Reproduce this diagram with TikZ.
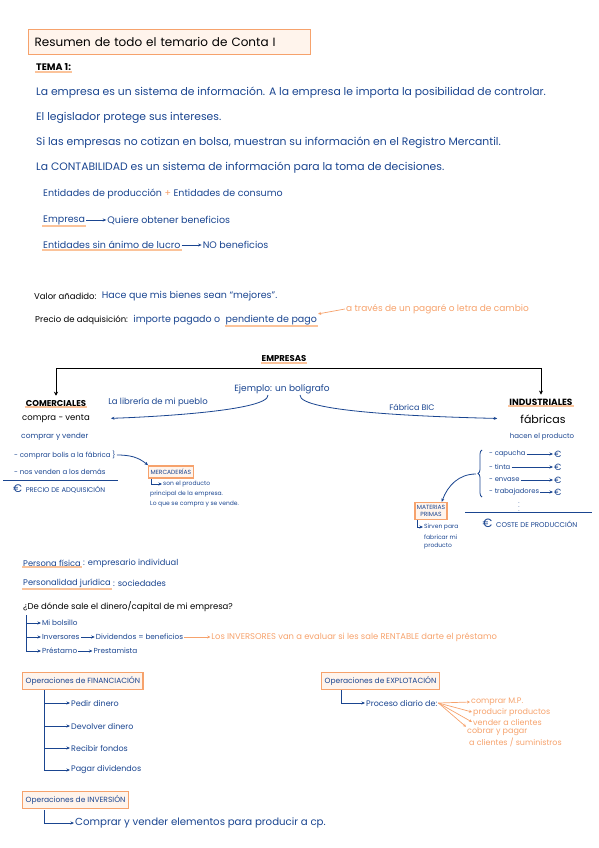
\documentclass[tikz,border=0pt]{standalone}
\usepackage{fontspec}
\setmainfont{Poppins}
\usetikzlibrary{arrows.meta, positioning, decorations.pathreplacing}
\definecolor{inkBlue}{HTML}{1A4590}
\definecolor{peach}{HTML}{F6A26C}
\definecolor{peachSoft}{HTML}{FBC39A}
\definecolor{peachFill}{HTML}{FFF4EC}

\begin{document}
\begin{tikzpicture}[
    x=1pt, y=-1pt,
    txt/.style={font=\fontsize{#1}{#1}\selectfont\color{inkBlue}, anchor=west, inner sep=1pt},
    txt/.default=9.5,
    ink/.style={font=\fontsize{#1}{#1}\selectfont, text=black, anchor=west, inner sep=1pt},
    ink/.default=8.5,
    ora/.style={font=\fontsize{#1}{#1}\selectfont\color{peach}, anchor=west, inner sep=1pt},
    ora/.default=8,
    hd/.style={font=\fontsize{8.5}{8.5}\selectfont\bfseries, text=black, inner sep=1pt},
    opbox/.style={draw=peach, fill=peachFill, line width=1.3pt, anchor=west,
                  font=\fontsize{7.5}{8}\selectfont\color{inkBlue},
                  inner xsep=3pt, minimum height=17pt, align=center},
    uline/.style={draw=peachSoft, line width=2pt},
    arr/.style={draw=inkBlue, line width=0.8pt, -{Stealth[length=3.5pt, width=3pt]}},
    oarr/.style={draw=peach, line width=0.7pt, -{Stealth[length=3pt, width=3pt]}},
    karr/.style={draw=black, line width=1pt, -{Stealth[length=4pt, width=4pt]}},
  ]
    \useasboundingbox (0,0) rectangle (599,848);

    % Titulo
    \node[ink=12, draw=peach, fill=peachFill, line width=1.3pt, text width=270pt,
          inner xsep=6pt, minimum height=25pt] (titl) at (28,42)
      {Resumen de todo el temario de Conta I};
    \node[hd, font=\fontsize{9.5}{9.5}\selectfont\bfseries, anchor=west] (tema) at (35,67) {TEMA 1:};
    \draw[uline] (tema.south west) -- (tema.south east);

    % Tema 1
    \node[txt=10.8] (l1) at (35,93) {La empresa es un sistema de información. A la empresa le importa la posibilidad de controlar.};
    \node[txt=10.8] (l2) at (35,118) {El legislador protege sus intereses.};
    \node[txt=10.8] (l3) at (35,143) {Si las empresas no cotizan en bolsa, muestran su información en el Registro Mercantil.};
    \node[txt=10.8] (l4) at (35,168) {La CONTABILIDAD es un sistema de información para la toma de decisiones.};

    \node[txt] (ent) at (42,194) {Entidades de producción {\color{peach}+} Entidades de consumo};
    \node[txt] (emp) at (42,220) {Empresa};
    \node[txt, right=20pt of emp] (obt) {Quiere obtener beneficios};
    \draw[uline] (emp.south west) -- (emp.south east);
    \draw[arr] (emp) -- (obt);
    \node[txt] (lucro) at (42,245) {Entidades sin ánimo de lucro};
    \node[txt, right=20pt of lucro] (nob) {NO beneficios};
    \draw[uline] (lucro.south west) -- (lucro.south east);
    \draw[arr] (lucro) -- (nob);

    % Valor y precio
    \node[ink] (va) at (33,296) {Valor añadido:};
    \node[txt, right=3pt of va] (vat) {Hace que mis bienes sean “mejores”.};
    \node[ink] (pa) at (34,320) {Precio de adquisición:};
    \node[txt, right=3pt of pa] (pat) {importe pagado o};
    \node[txt, right=3pt of pat] (pend) {pendiente de pago};
    \draw[uline] (pend.south west) -- (pend.south east);
    \node[ora=9] (letra) at (345,309) {a través de un pagaré o letra de cambio};
    \draw[oarr] (letra.west) -- (pend.north east);

    % Empresas
    \node[hd] (emps) at (284,359) {EMPRESAS};
    \draw[uline] (emps.south west) -- (emps.south east);
    \coordinate (split) at (284,368);
    \node[hd] (com) at (56,403) {COMERCIALES};
    \draw[uline] (com.south west) -- (com.south east);
    \node[hd, font=\fontsize{9}{9}\selectfont\bfseries] (ind) at (541,402) {INDUSTRIALES};
    \draw[uline] (ind.south west) -- (ind.south east);
    \draw[karr, shorten >=3pt] (split) -| (com);
    \draw[karr, shorten >=3pt] (split) -| (ind);
    \node[ink=8.5, anchor=center] (cv) at (56,419) {compra - venta};
    \node[ink=11, anchor=center] (fab) at (543,419) {fábricas};

    \node[txt=9, anchor=center] (ej) at (282,389) {Ejemplo: un bolígrafo};
    \node[txt=8.5, anchor=center] (lib) at (158,402) {La librería de mi pueblo};
    \node[txt=8, anchor=center] (bic) at (412,407) {Fábrica BIC};
    \draw[arr, shorten >=20pt] ([xshift=-14pt]ej.south) .. controls +(2,16) and +(60,-2) .. (cv.east);
    \draw[arr, shorten >=22pt] ([xshift=18pt]ej.south) .. controls +(-2,18) and +(-80,-2) .. (fab.west);

    % Comerciales
    \node[txt=7.5] (cyv) at (20,437) {comprar y vender};
    \node[txt=7] (cb) at (13,455) {- comprar bolis a la fábrica \}};
    \node[txt=7] (nv) at (13,472) {- nos venden a los demás};
    \draw[inkBlue, line width=0.8pt] (3,480) -- (118,480);
    \node[txt=6.8] (pda) at (12,489) {{\fontsize{11}{11}\selectfont €}\ \ PRECIO DE ADQUISICIÓN};
    \node[opbox, font=\fontsize{6}{6}\selectfont\color{inkBlue}, minimum height=11pt, inner xsep=2pt] (merc) at (148,472) {MERCADERÍAS};
    \draw[arr] (cb.east) to[out=0, in=140] (merc.north west);
    \node[txt=6] (son) at (162,484) {son el producto};
    \node[txt=6] (princ) at (149,494) {principal de la empresa.};
    \node[txt=6] (loque) at (149,504) {Lo que se compra y se vende.};
    \draw[arr] ([xshift=3pt]merc.south west) |- (son.west);

    % Industriales
    \node[txt=7, anchor=center] (hac) at (542,437) {hacen el producto};
    \draw[inkBlue, line width=0.8pt, decorate, decoration={brace, amplitude=4pt}] (482,497) -- (482,450);
    \coordinate (bt) at (476,474);
    \node[txt=6.8] (cap) at (488,454) {- capucha};
    \node[txt=6.8] (tin) at (488,467) {- tinta};
    \node[txt=6.8] (env) at (488,480) {- envase};
    \node[txt=6.8] (trab) at (488,492) {- trabajadores};
    \node[txt=9] (e1) at (553,454) {€};
    \node[txt=9] (e2) at (553,467) {€};
    \node[txt=9] (e3) at (553,480) {€};
    \node[txt=9] (e4) at (553,492) {€};
    \draw[arr] (cap) -- (e1);
    \draw[arr] (tin) -- (e2);
    \draw[arr] (env) -- (e3);
    \draw[arr] (trab) -- (e4);
    \node[txt=6, anchor=center] (dots) at (519,504) {$\vdots$};
    \draw[inkBlue, line width=0.8pt] (465,512) -- (592,512);
    \node[txt=7, anchor=center] (cdp) at (530,523) {{\fontsize{12}{12}\selectfont €}\ \ COSTE DE PRODUCCIÓN};
    \node[opbox, anchor=center, font=\fontsize{6}{6.5}\selectfont\color{inkBlue}, inner xsep=2pt, inner ysep=1.5pt] (mp) at (431,511) {MATERIAS\\PRIMAS};
    \draw[arr] (bt) to[out=180, in=70] ([xshift=-6pt]mp.north east);
    \node[txt=6] (sv1) at (423,527) {Sirven para};
    \node[txt=6] (sv2) at (423,537) {fabricar mi};
    \node[txt=6] (sv3) at (423,546) {producto};
    \draw[arr] ([xshift=3pt]mp.south west) |- (sv1.west);

    % Personas
    \node[txt=8.3] (pf) at (22,563) {Persona física};
    \node[txt=8.3, right=0pt of pf] (pfd) {: empresario individual};
    \draw[uline] (pf.south west) -- (pf.south east);
    \node[txt=8.3] (pj) at (22,583) {Personalidad jurídica};
    \node[txt=8.3, right=0pt of pj] (pjd) {: sociedades};
    \draw[uline] (pj.south west) -- (pj.south east);

    % Dinero
    \node[ink=8.5] (q) at (22,607) {¿De dónde sale el dinero/capital de mi empresa?};
    \coordinate (qroot) at (26,615);
    \node[txt=7.3] (bol) at (41,623) {Mi bolsillo};
    \node[txt=7.3] (inv) at (41,637) {Inversores};
    \node[txt=7.3, right=14pt of inv] (div) {Dividendos = beneficios};
    \node[ora=8.4, right=26pt of div] (evalua) {Los INVERSORES van a evaluar si les sale RENTABLE darte el préstamo};
    \node[txt=7.3] (pres) at (41,651) {Préstamo};
    \node[txt=7.3, right=14pt of pres] (prest) {Prestamista};
    \draw[arr] (qroot) |- (bol);
    \draw[arr] (qroot) |- (inv);
    \draw[arr] (qroot) |- (pres);
    \draw[arr] (inv) -- (div);
    \draw[oarr] (div) -- (evalua);
    \draw[arr] (pres) -- (prest);

    % Financiacion
    \node[opbox] (fin) at (22,681) {Operaciones de FINANCIACIÓN};
    \coordinate (froot) at (44,690);
    \node[txt=8] (pdin) at (70,703) {Pedir dinero};
    \node[txt=8] (ddin) at (70,726) {Devolver dinero};
    \node[txt=8] (rfon) at (70,748) {Recibir fondos};
    \node[txt=8] (pdiv) at (70,770) {Pagar dividendos};
    \draw[arr] (froot) |- (pdin);
    \draw[arr] (froot) |- (ddin);
    \draw[arr] (froot) |- (rfon);
    \draw[arr] (froot) |- (pdiv);

    % Inversion
    \node[opbox] (invb) at (22,800) {Operaciones de INVERSIÓN};
    \coordinate (iroot) at (44,810);
    \node[txt=10.2] (cve) at (74,823) {Comprar y vender elementos para producir a cp.};
    \draw[arr] (iroot) |- (cve);

    % Explotacion
    \node[opbox] (expl) at (321,681) {Operaciones de EXPLOTACIÓN};
    \coordinate (eroot) at (341,690);
    \node[txt=8] (proc) at (365,703) {Proceso diario de:};
    \draw[arr] (eroot) |- (proc);
    \node[ora] (cmp) at (470,702) {comprar M.P.};
    \node[ora] (prp) at (472,712) {producir productos};
    \node[ora] (vnd) at (472,722) {vender a clientes};
    \node[ora] (cyp) at (466,732) {cobrar y pagar};
    \node[ora] (acs) at (468,742) {a clientes / suministros};
    \draw[oarr] (proc.east) -- (cmp.west);
    \draw[oarr] (proc.east) -- (prp.west);
    \draw[oarr] (proc.east) -- (vnd.west);
    \draw[oarr] (proc.east) -- (cyp.north west);
  \end{tikzpicture}
\end{document}
